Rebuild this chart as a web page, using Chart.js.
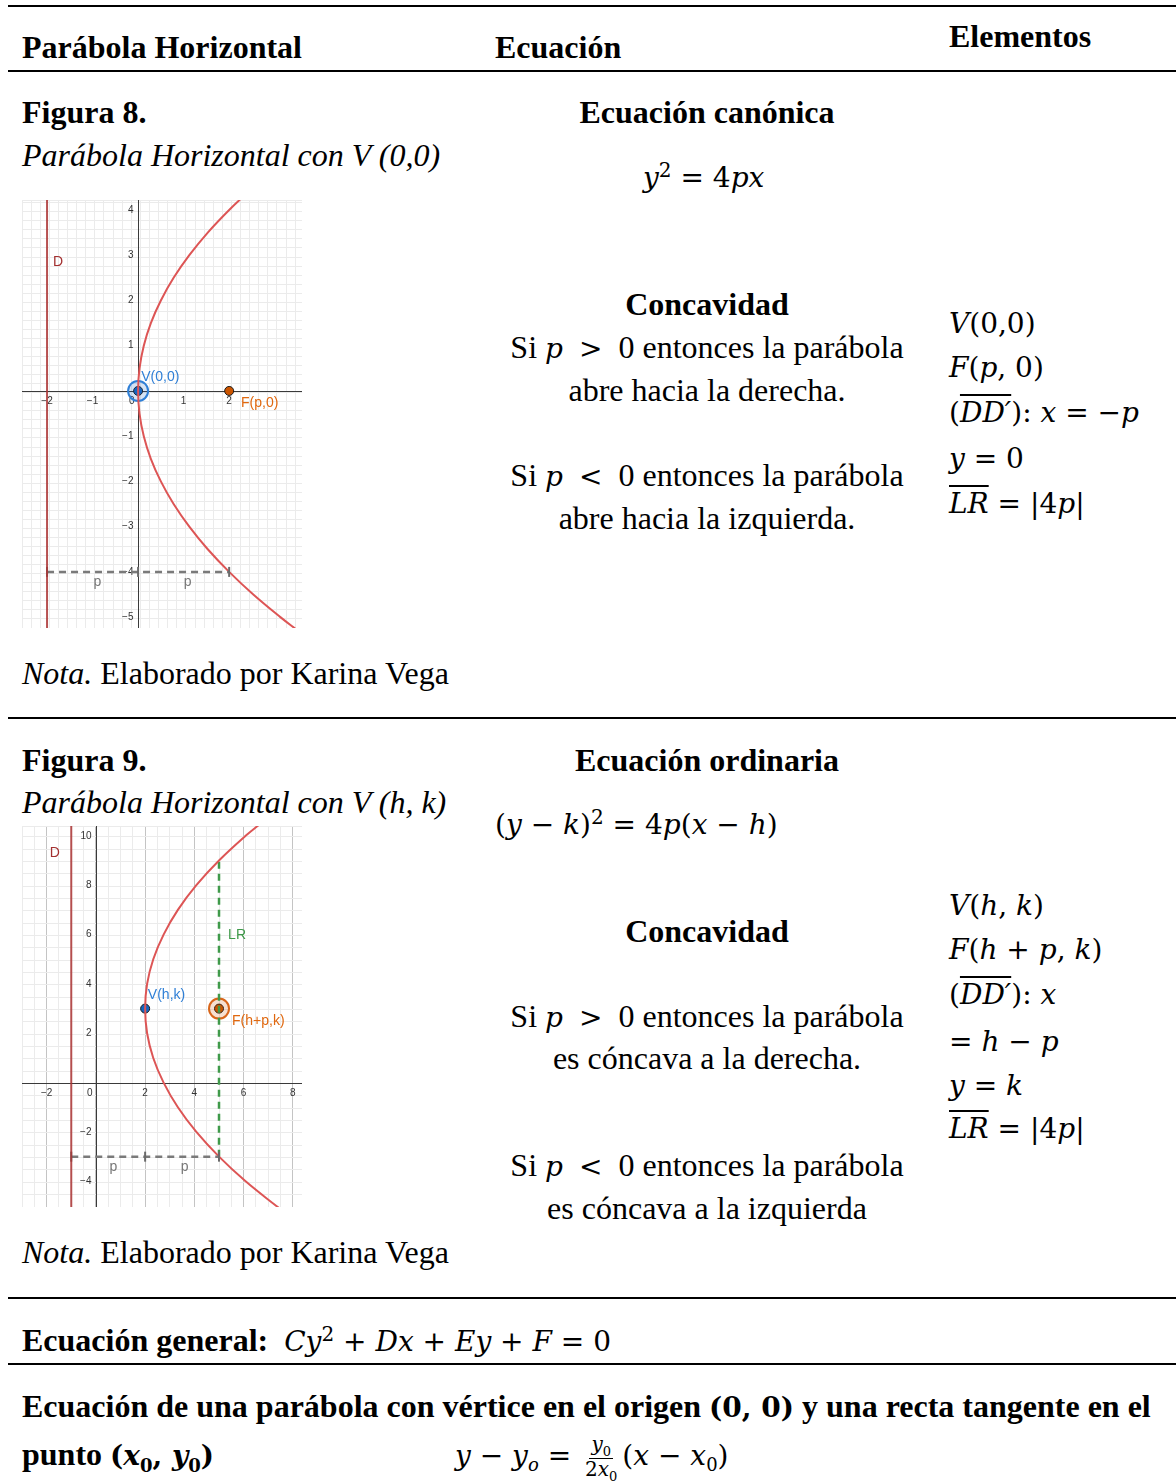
<!doctype html>
<html>
<head>
<meta charset="utf-8">
<script src="https://cdnjs.cloudflare.com/ajax/libs/Chart.js/4.4.1/chart.umd.js"></script>
<style>
  body { margin:0; background:#fff; }
  #page { position:relative; width:1176px; height:1483px; background:#fff; overflow:hidden; }
  .t { position:absolute; white-space:nowrap; font-family:"Liberation Serif","Times New Roman",serif; font-size:32px; line-height:34px; color:#000; }
  .b { font-weight:bold; }
  .i { font-style:italic; }
  .c { transform:translateX(-50%); }
  .m { font-family:"DejaVu Serif",serif; font-size:28px; }
  .v { font-style:italic; }
  .hr { position:absolute; left:8px; right:0; height:2px; background:#000; }
  .ov { text-decoration:overline; text-decoration-thickness:1.5px; }
  sup, sub { line-height:0; }
  .frac { display:inline-flex; flex-direction:column; align-items:center; vertical-align:middle; font-size:20px; line-height:21px; position:relative; top:0px; margin:0 3px; }
  .frac > span { display:block; padding:0 2px; }
  .frac > .top { border-bottom:1.5px solid #000; padding-bottom:3px; }
  .chart { position:absolute; }
</style>
<script>
  // ---- Figura 8 : y^2 = 4px, p = 2 ----
  let f8CurveX = [3.51, 3.125, 2.53, 2, 1.53, 1.125, 0.78, 0.5, 0.28, 0.125, 0.031, 0, 0.031, 0.125, 0.28, 0.5, 0.78, 1.125, 1.53, 2, 2.42];
  let f8CurveY = [-5.3, -5, -4.5, -4, -3.5, -3, -2.5, -2, -1.5, -1, -0.5, 0, 0.5, 1, 1.5, 2, 2.5, 3, 3.5, 4, 4.4];
  let f8Vertex = [0, 0];
  let f8Focus = [2, 0];
  let f8Directrix = -2;
  let f8DashY = -4;
  let f8DashX = [-2, 0, 2];
  let f8XTicks = [-2, -1, 0, 1, 2];
  let f8YTicks = [4, 3, 2, 1, -1, -2, -3, -4, -5];

  // ---- Figura 9 : (y-3)^2 = 12(x-2), h=2, k=3, p=3 ----
  let f9CurveX = [7.6, 7.33, 6.08, 5, 4.08, 3.33, 2.75, 2.33, 2.08, 2, 2.08, 2.33, 2.75, 3.33, 4.08, 5, 6.08, 6.69];
  let f9CurveY = [-5.2, -5, -4, -3, -2, -1, 0, 1, 2, 3, 4, 5, 6, 7, 8, 9, 10, 10.5];
  let f9Vertex = [2, 3];
  let f9Focus = [5, 3];
  let f9Directrix = -1;
  let f9DashY = -3;
  let f9DashX = [-1, 2, 5];
  let f9LR = [-3, 9];
  let f9XTicks = [-2, 0, 2, 4, 6, 8];
  let f9YTicks = [10, 8, 6, 4, 2, -2, -4];

  function pts(xs, ys){ return xs.map((v,i)=>({x:v, y:ys[i]})); }
  function fmt(v){ return v < 0 ? '\u2212' + Math.abs(v) : String(v); }

  const overlay = {
    id: 'overlay',
    beforeDatasetsDraw(chart, args, o) {
      const {ctx, chartArea:a} = chart;
      const x = chart.scales.x, y = chart.scales.y;
      const x0 = Math.round(x.getPixelForValue(0)) + 0.5;
      const y0 = Math.round(y.getPixelForValue(0)) + 0.5;
      ctx.save();
      ctx.strokeStyle = '#3a3a3a'; ctx.lineWidth = 1;
      ctx.beginPath();
      ctx.moveTo(a.left, y0); ctx.lineTo(a.right, y0);
      ctx.moveTo(x0, a.top); ctx.lineTo(x0, a.bottom);
      ctx.stroke();
      ctx.font = '10px "Liberation Sans", Arial, sans-serif';
      ctx.fillStyle = '#333';
      ctx.textBaseline = 'top';
      o.xTicks.forEach(v => {
        if (v === 0) { ctx.textAlign = 'right'; ctx.fillText('0', x0 - 4, y0 + 5); }
        else { ctx.textAlign = 'center'; ctx.fillText(fmt(v), x.getPixelForValue(v), y0 + 5); }
      });
      ctx.textAlign = 'right'; ctx.textBaseline = 'middle';
      o.yTicks.forEach(v => ctx.fillText(fmt(v), x0 - 5, y.getPixelForValue(v)));
      ctx.restore();
    },
    afterDatasetsDraw(chart, args, o) {
      const {ctx} = chart;
      const x = chart.scales.x, y = chart.scales.y;
      ctx.save();
      ctx.font = '14px "Liberation Sans", Arial, sans-serif';
      ctx.textAlign = 'left'; ctx.textBaseline = 'middle';
      o.labels.forEach(l => {
        ctx.fillStyle = l.color;
        ctx.fillText(l.t, x.getPixelForValue(l.x), y.getPixelForValue(l.y));
      });
      ctx.restore();
    }
  };

  function gridScale(min, max, step, major) {
    return {
      type: 'linear', min: min, max: max, bounds: 'data',
      ticks: { display: false, stepSize: step, includeBounds: false },
      border: { display: false },
      grid: {
        drawTicks: false,
        color: c => {
          const r = c.tick.value / major;
          return Math.abs(r - Math.round(r)) < 1e-6 ? '#c4c4c4' : '#ebebeb';
        }
      }
    };
  }

  function build(id, cfg) {
    const red = '#dd5555', dir = 'rgba(170,50,50,0.85)';
    const ds = [
      { data: [{x:cfg.dir, y:cfg.ymin}, {x:cfg.dir, y:cfg.ymax}], showLine: true, borderColor: dir, borderWidth: 2, pointRadius: 0 },
      { data: cfg.dash, showLine: true, borderColor: '#7a7a7a', borderWidth: 2.5, borderDash: [7, 5],
        pointStyle: 'line', rotation: 90, pointRadius: 5, pointBorderColor: '#6a6a6a', pointBorderWidth: 2 },
      { data: cfg.curve, showLine: true, borderColor: red, borderWidth: 2, pointRadius: 0, tension: 0.4 }
    ];
    if (cfg.lr) ds.push({ data: cfg.lr, showLine: true, borderColor: '#3f9a4a', borderWidth: 2.5, borderDash: [7, 5], pointRadius: 0 });
    // halo around selected point
    ds.push({ data: [cfg.halo.p], pointRadius: 10, pointBackgroundColor: cfg.halo.fill, pointBorderColor: cfg.halo.stroke, pointBorderWidth: 2 });
    ds.push({ data: [cfg.vertex], pointRadius: 4.5, pointBackgroundColor: '#1565c0', pointBorderColor: '#1a1a1a', pointBorderWidth: 1 });
    ds.push({ data: [cfg.focus], pointRadius: 4.5, pointBackgroundColor: '#cc5500', pointBorderColor: '#1a1a1a', pointBorderWidth: 1 });
    new Chart(document.getElementById(id), {
      type: 'scatter',
      data: { datasets: ds },
      options: {
        responsive: false, animation: false,
        layout: { padding: 0, autoPadding: false },
        plugins: { legend: { display: false }, tooltip: { enabled: false },
          overlay: { xTicks: cfg.xTicks, yTicks: cfg.yTicks, labels: cfg.labels } },
        scales: {
          x: gridScale(cfg.xmin, cfg.xmax, cfg.minor, cfg.major),
          y: gridScale(cfg.ymin, cfg.ymax, cfg.minor, cfg.major)
        }
      },
      plugins: [overlay]
    });
  }

  function startPage() {
    build('c8', {
      xmin: -2.55, xmax: 3.6, ymin: -5.24, ymax: 4.22, minor: 0.2, major: 1,
      curve: pts(f8CurveX, f8CurveY),
      dir: f8Directrix,
      dash: f8DashX.map(v => ({x: v, y: f8DashY})),
      vertex: {x: f8Vertex[0], y: f8Vertex[1]},
      focus: {x: f8Focus[0], y: f8Focus[1]},
      halo: { p: {x: f8Vertex[0], y: f8Vertex[1]}, fill: 'rgba(21,101,192,0.18)', stroke: '#2f7fd6' },
      xTicks: f8XTicks, yTicks: f8YTicks,
      labels: [
        {t: 'D', x: -1.87, y: 2.85, color: '#a33030'},
        {t: 'V(0,0)', x: 0.07, y: 0.31, color: '#2f7fd6'},
        {t: 'F(p,0)', x: 2.26, y: -0.27, color: '#e0680f'},
        {t: 'p', x: -0.98, y: -4.22, color: '#777'},
        {t: 'p', x: 1.0, y: -4.22, color: '#777'}
      ]
    });
    build('c9', {
      xmin: -3.0, xmax: 8.37, ymin: -5.04, ymax: 10.4, minor: 0.5, major: 2,
      curve: pts(f9CurveX, f9CurveY),
      dir: f9Directrix,
      dash: f9DashX.map(v => ({x: v, y: f9DashY})),
      lr: f9LR.map(v => ({x: f9Focus[0], y: v})),
      vertex: {x: f9Vertex[0], y: f9Vertex[1]},
      focus: {x: f9Focus[0], y: f9Focus[1]},
      halo: { p: {x: f9Focus[0], y: f9Focus[1]}, fill: 'rgba(204,85,0,0.18)', stroke: '#d9661a' },
      xTicks: f9XTicks, yTicks: f9YTicks,
      labels: [
        {t: 'D', x: -1.87, y: 9.31, color: '#a33030'},
        {t: 'V(h,k)', x: 2.11, y: 3.55, color: '#2f7fd6'},
        {t: 'F(h+p,k)', x: 5.53, y: 2.5, color: '#e0680f'},
        {t: 'LR', x: 5.37, y: 5.99, color: '#3f9a4a'},
        {t: 'p', x: 0.55, y: -3.42, color: '#777'},
        {t: 'p', x: 3.45, y: -3.42, color: '#777'}
      ]
    });
  }
</script>
</head>
<body onload="startPage()">
<div id="page">
  <div class="hr" style="top:5px"></div>
  <div class="t b" style="left:22px; top:30px">Parábola Horizontal</div>
  <div class="t b" style="left:495px; top:30px">Ecuación</div>
  <div class="t b" style="left:949px; top:19px">Elementos</div>
  <div class="hr" style="top:70px"></div>

  <div class="t b" style="left:22px; top:95px">Figura 8.</div>
  <div class="t i" style="left:22px; top:138px">Parábola Horizontal con V (0,0)</div>
  <div class="t b c" style="left:707px; top:95px">Ecuación canónica</div>
  <div class="t m" style="left:643px; top:161px"><span class="v">y</span><sup style="font-size:20px">2</sup> = 4<span class="v">px</span></div>

  <div class="chart" style="left:22px; top:200px"><canvas id="c8" width="280" height="428"></canvas></div>

  <div class="t b c" style="left:707px; top:287px">Concavidad</div>
  <div class="t c" style="left:707px; top:330px">Si <span class="m v">p</span> &nbsp;<span class="m">&gt;</span>&nbsp; 0 entonces la parábola</div>
  <div class="t c" style="left:707px; top:373px">abre hacia la derecha.</div>
  <div class="t c" style="left:707px; top:458px">Si <span class="m v">p</span> &nbsp;<span class="m">&lt;</span>&nbsp; 0 entonces la parábola</div>
  <div class="t c" style="left:707px; top:501px">abre hacia la izquierda.</div>

  <div class="t m" style="left:949px; top:307px"><span class="v">V</span>(0,0)</div>
  <div class="t m" style="left:949px; top:351px"><span class="v">F</span>(<span class="v">p</span>, 0)</div>
  <div class="t m" style="left:949px; top:396px">(<span class="v ov">DD′</span>): <span class="v">x</span> = −<span class="v">p</span></div>
  <div class="t m" style="left:949px; top:442px"><span class="v">y</span> = 0</div>
  <div class="t m" style="left:949px; top:487px"><span class="v ov">LR</span> = |4<span class="v">p</span>|</div>

  <div class="t" style="left:22px; top:656px"><span class="i">Nota.</span> Elaborado por Karina Vega</div>
  <div class="hr" style="top:717px"></div>

  <div class="t b" style="left:22px; top:743px">Figura 9.</div>
  <div class="t b c" style="left:707px; top:743px">Ecuación ordinaria</div>
  <div class="t i" style="left:22px; top:785px">Parábola Horizontal con V (h, k)</div>
  <div class="t m" style="left:495px; top:808px">(<span class="v">y</span> − <span class="v">k</span>)<sup style="font-size:20px">2</sup> = 4<span class="v">p</span>(<span class="v">x</span> − <span class="v">h</span>)</div>

  <div class="chart" style="left:22px; top:826px"><canvas id="c9" width="280" height="381"></canvas></div>

  <div class="t b c" style="left:707px; top:914px">Concavidad</div>
  <div class="t c" style="left:707px; top:999px">Si <span class="m v">p</span> &nbsp;<span class="m">&gt;</span>&nbsp; 0 entonces la parábola</div>
  <div class="t c" style="left:707px; top:1041px">es cóncava a la derecha.</div>
  <div class="t c" style="left:707px; top:1148px">Si <span class="m v">p</span> &nbsp;<span class="m">&lt;</span>&nbsp; 0 entonces la parábola</div>
  <div class="t c" style="left:707px; top:1191px">es cóncava a la izquierda</div>

  <div class="t m" style="left:949px; top:889px"><span class="v">V</span>(<span class="v">h</span>, <span class="v">k</span>)</div>
  <div class="t m" style="left:949px; top:933px"><span class="v">F</span>(<span class="v">h</span> + <span class="v">p</span>, <span class="v">k</span>)</div>
  <div class="t m" style="left:949px; top:978px">(<span class="v ov">DD′</span>): <span class="v">x</span></div>
  <div class="t m" style="left:949px; top:1025px">= <span class="v">h</span> − <span class="v">p</span></div>
  <div class="t m" style="left:949px; top:1069px"><span class="v">y</span> = <span class="v">k</span></div>
  <div class="t m" style="left:949px; top:1112px"><span class="v ov">LR</span> = |4<span class="v">p</span>|</div>

  <div class="t" style="left:22px; top:1235px"><span class="i">Nota.</span> Elaborado por Karina Vega</div>
  <div class="hr" style="top:1297px"></div>

  <div class="t" style="left:22px; top:1323px"><span class="b">Ecuación general:</span>&nbsp; <span class="m"><span class="v">Cy</span><sup style="font-size:20px">2</sup> + <span class="v">Dx</span> + <span class="v">Ey</span> + <span class="v">F</span> = 0</span></div>
  <div class="hr" style="top:1363px"></div>

  <div class="t b" style="left:22px; top:1389px">Ecuación de una parábola con vértice en el origen <span class="m">(0, 0)</span> y una recta tangente en el</div>
  <div class="t b" style="left:22px; top:1437px">punto <span class="m">(<span class="v">x</span><sub style="font-size:18px">0</sub>, <span class="v">y</span><sub style="font-size:18px">0</sub>)</span></div>
  <div class="t m" style="left:455px; top:1434px"><span class="v">y</span> − <span class="v">y</span><sub class="v" style="font-size:18px">o</sub> = <span class="frac"><span class="top"><span class="v">y</span><sub style="font-size:13px">0</sub></span><span>2<span class="v">x</span><sub style="font-size:13px">0</sub></span></span>(<span class="v">x</span> − <span class="v">x</span><sub style="font-size:18px">0</sub>)</div>
</div>
</body>
</html>
